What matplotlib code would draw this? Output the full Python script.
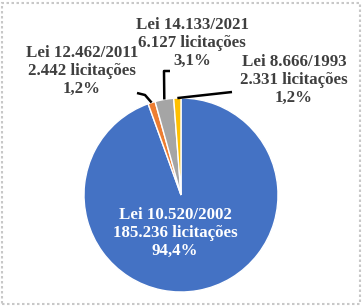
#!/usr/bin/env python
import numpy as np
import matplotlib
matplotlib.use('Agg')
import matplotlib.pyplot as plt
from matplotlib.patches import Rectangle

# data
leis = ['Lei 10.520/2002', 'Lei 12.462/2011', 'Lei 14.133/2021', 'Lei 8.666/1993']
licitacoes = ['185.236', '2.442', '6.127', '2.331']
percent = [94.4, 1.2, 3.1, 1.2]
colors = ['#4472C4', '#ED7D31', '#A5A5A5', '#FFC000']

W, H = 362, 306
fig = plt.figure(figsize=(W / 100, H / 100), dpi=100)
ax = fig.add_axes([0, 0, 1, 1])

cx, cy, r = 181, H - 195, 97
wedges, _ = ax.pie(percent, colors=colors, startangle=90, counterclock=False,
                   center=(cx, cy), radius=r,
                   wedgeprops=dict(edgecolor='white', linewidth=1))
ax.set_xlim(0, W)
ax.set_ylim(0, H)
ax.axis('off')

font = dict(family='Liberation Serif', weight='bold', fontsize=12.2,
            ha='center', va='center', linespacing=1.15)

# label centres (pixels from top-left) and leader-line bends
label_pos = [(175, 233), (82, 71), (192, 43), (294, 80)]
bends = [None, [(145, 95), (137, 93)], [(164, 71), (170, 71)], [(232, 92)]]

for i, w in enumerate(wedges):
    txt = '%s\n%s licitações\n%s%%' % (leis[i], licitacoes[i],
                                        ('%.1f' % percent[i]).replace('.', ','))
    x, y = label_pos[i]
    ax.text(x, H - y, txt, color='white' if i == 0 else '#3f3f3f', **font)
    if bends[i] is None:
        continue
    ang = np.deg2rad((w.theta1 + w.theta2) / 2)
    px = [cx + r * np.cos(ang)] + [p[0] for p in bends[i]]
    py = [cy + r * np.sin(ang)] + [H - p[1] for p in bends[i]]
    ax.plot(px, py, color='black', lw=1.8, solid_capstyle='butt')

fig.patches.append(Rectangle((1.5, 2.5), W - 3.5, H - 5, transform=None,
                             fill=False, edgecolor='#c8c8c8', lw=1.5,
                             linestyle=(0, (1.2, 1.2))))

plt.savefig('out.png', dpi=100)
plt.close(fig)
